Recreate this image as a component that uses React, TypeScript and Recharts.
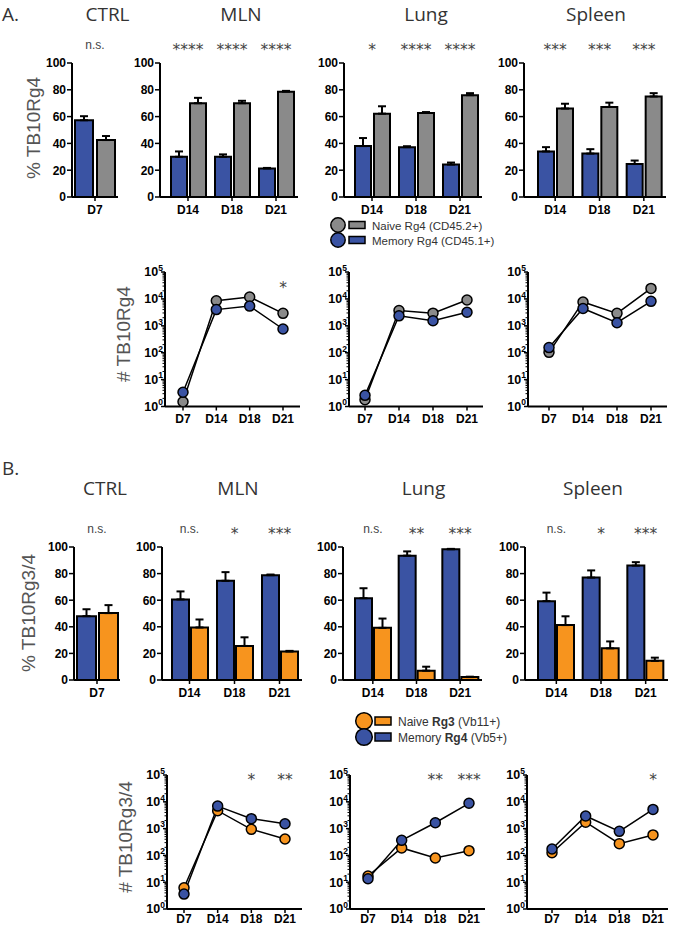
import React from 'react';
import { BarChart, Bar, XAxis, YAxis, ErrorBar, LineChart, Line } from 'recharts';

// ---------- categories & tick labels ----------
const ctrlDays = ['D7'];
const barDays = ['D14', 'D18', 'D21'];
const lineDays = ['D7', 'D14', 'D18', 'D21'];
const pctTicks = [0, 20, 40, 60, 80, 100];
const logMajorTicks = [1, 10, 100, 1000, 10000, 100000];
const minorMultipliers = [2, 3, 4, 5, 6, 7, 8, 9];

// ---------- Panel A: % TB10Rg4 (memory = blue, naive = gray) ----------
const aCtrlMemory = [57.3];
const aCtrlMemoryErr = [3];
const aCtrlNaive = [42.5];
const aCtrlNaiveErr = [3];
const aMlnMemory = [30, 30, 21.3];
const aMlnMemoryErr = [4, 1.8, 0.4];
const aMlnNaive = [70, 70, 78.6];
const aMlnNaiveErr = [4, 1.8, 0.6];
const aLungMemory = [38, 37.2, 24.2];
const aLungMemoryErr = [6, 0.7, 1.5];
const aLungNaive = [62.2, 62.7, 76];
const aLungNaiveErr = [5.5, 0.7, 1.5];
const aSpleenMemory = [34, 32.4, 24.6];
const aSpleenMemoryErr = [3.2, 3.3, 2.6];
const aSpleenNaive = [66, 67.2, 75];
const aSpleenNaiveErr = [3.6, 3.2, 2.5];
const aCtrlSig = ['n.s.'];
const aMlnSig = ['****', '****', '****'];
const aLungSig = ['*', '****', '****'];
const aSpleenSig = ['***', '***', '***'];

// ---------- Panel A: # TB10Rg4 ----------
const aMlnCountNaive = [1.5, 8500, 11800, 2900];
const aMlnCountMemory = [3.4, 4000, 5400, 760];
const aLungCountNaive = [1.8, 3700, 2950, 9100];
const aLungCountMemory = [2.6, 2350, 1540, 3200];
const aSpleenCountNaive = [103, 7700, 2900, 24500];
const aSpleenCountMemory = [155, 4400, 1300, 8100];
const aMlnCountSig = ['', '', '', '*'];
const aLungCountSig = ['', '', '', ''];
const aSpleenCountSig = ['', '', '', ''];

// ---------- Panel B: % TB10Rg3/4 (memory = blue, naive = orange) ----------
const bCtrlMemory = [48];
const bCtrlMemoryErr = [5.2];
const bCtrlNaive = [50.3];
const bCtrlNaiveErr = [6];
const bMlnMemory = [60.6, 74.6, 78.8];
const bMlnMemoryErr = [6, 6.5, 0.5];
const bMlnNaive = [39.5, 25.6, 21.4];
const bMlnNaiveErr = [6, 6.5, 0.5];
const bLungMemory = [61.5, 93.5, 98.3];
const bLungMemoryErr = [7.5, 3.2, 0.3];
const bLungNaive = [39.2, 7, 2.2];
const bLungNaiveErr = [7, 3, 0.3];
const bSpleenMemory = [59.3, 77, 86];
const bSpleenMemoryErr = [6.4, 5.4, 2.6];
const bSpleenNaive = [41.3, 23.8, 14.4];
const bSpleenNaiveErr = [6.6, 5.2, 2.4];
const bCtrlSig = ['n.s.'];
const bMlnSig = ['n.s.', '*', '***'];
const bLungSig = ['n.s.', '**', '***'];
const bSpleenSig = ['n.s.', '*', '***'];

// ---------- Panel B: # TB10Rg3/4 ----------
const bMlnCountMemory = [3.6, 6900, 2350, 1520];
const bMlnCountNaive = [6.2, 4650, 940, 410];
const bLungCountMemory = [13.5, 365, 1650, 8800];
const bLungCountNaive = [17, 190, 80, 150];
const bSpleenCountMemory = [173, 2950, 790, 5200];
const bSpleenCountNaive = [126, 1730, 275, 580];
const bMlnCountSig = ['', '', '*', '**'];
const bLungCountSig = ['', '', '**', '***'];
const bSpleenCountSig = ['', '', '', '*'];

// ---------- text ----------
const titles = ['CTRL', 'MLN', 'Lung', 'Spleen'];
const legendALabels = ['Naive Rg4 (CD45.2+)', 'Memory Rg4 (CD45.1+)'];
const legendBLabels = [
  ['Naive ', 'Rg3', ' (Vb11+)'],
  ['Memory ', 'Rg4', ' (Vb5+)'],
];

// ---------- styles ----------
const BLUE = '#3a53a3';
const GRAY = '#8a8a8a';
const ORANGE = '#f7941e';
const FONT = 'Liberation Sans, Arial, sans-serif';
const TOP_H = 30;
const BOTTOM_H = 26;
const Y_W = 36;
const RIGHT = 4;

const logTicks = [
  ...logMajorTicks,
  ...logMajorTicks.slice(0, -1).flatMap((d) => minorMultipliers.map((m) => d * m)),
].sort((a, b) => a - b);

function barRows(days: string[], mem: number[], memErr: number[], nai: number[], naiErr: number[]) {
  return days.map((d, i) => ({
    day: d,
    memory: mem[i],
    memoryErr: [0, memErr[i]],
    naive: nai[i],
    naiveErr: [0, naiErr[i]],
  }));
}

function lineRows(days: string[], nai: number[], mem: number[]) {
  return days.map((d, i) => ({ day: d, naive: nai[i], memory: mem[i] }));
}

const PctTick = (p: any) => (
  <g>
    <line x1={p.x - 5} x2={p.x} y1={p.y} y2={p.y} stroke="#000" strokeWidth={1.5} />
    <text x={p.x - 6} y={p.y + 4.3} textAnchor="end" fontSize={12} fontWeight="bold" fill="#000" fontFamily={FONT}>
      {p.payload.value}
    </text>
  </g>
);

const LogTick = (p: any) => {
  const v = p.payload.value;
  const exp = Math.round(Math.log10(v));
  const major = Math.abs(Math.pow(10, exp) - v) < 1e-6;
  if (!major) {
    return <line x1={p.x - 2.5} x2={p.x} y1={p.y} y2={p.y} stroke="#000" strokeWidth={1} />;
  }
  return (
    <g>
      <line x1={p.x - 4} x2={p.x} y1={p.y} y2={p.y} stroke="#000" strokeWidth={1.5} />
      <text x={p.x - 2} y={p.y + 4.3} textAnchor="end" fontSize={12.5} fontWeight="bold" fill="#000" fontFamily={FONT}>
        10
        <tspan fontSize={8.5} dy={-5.5}>
          {exp}
        </tspan>
      </text>
    </g>
  );
};

function makeDayTick(dy: number) {
  return (p: any) => (
    <g>
      <line x1={p.x} x2={p.x} y1={p.y} y2={p.y + 4} stroke="#000" strokeWidth={1.5} />
      <text x={p.x} y={p.y + dy} textAnchor="middle" fontSize={12} fontWeight="bold" fill="#000" fontFamily={FONT}>
        {p.payload.value}
      </text>
    </g>
  );
}

function makeSigTick(labels: string[], starDy: number, nsDy: number) {
  return (p: any) => {
    const label = labels[p.index] || '';
    if (!label) return <g />;
    if (label === 'n.s.') {
      return (
        <text x={p.x} y={p.y + nsDy} textAnchor="middle" fontSize={12} fill="#444" fontFamily={FONT}>
          {label}
        </text>
      );
    }
    return (
      <text x={p.x} y={p.y + starDy} textAnchor="middle" fontSize={15.5} fill="#444" fontFamily="DejaVu Sans, sans-serif">
        {label}
      </text>
    );
  };
}

type BarPanelProps = {
  axisX: number;
  plotTop: number;
  plotH: number;
  plotW: number;
  padL: number;
  barSize: number;
  barGap: number;
  rows: any[];
  naiveColor: string;
  sig: string[];
};

function BarPanel({ axisX, plotTop, plotH, plotW, padL, barSize, barGap, rows, naiveColor, sig }: BarPanelProps) {
  const width = Y_W + plotW + RIGHT;
  const height = TOP_H + plotH + BOTTOM_H;
  const axisLine = { stroke: '#000', strokeWidth: 2 };
  return (
    <div style={{ position: 'absolute', left: axisX - Y_W, top: plotTop - TOP_H }}>
      <BarChart
        width={width}
        height={height}
        data={rows}
        margin={{ top: 0, right: RIGHT, bottom: 0, left: 0 }}
        barSize={barSize}
        barGap={barGap}
        style={{ fontFamily: FONT }}
      >
        <XAxis
          xAxisId="sig"
          orientation="top"
          dataKey="day"
          height={TOP_H}
          axisLine={false}
          tickLine={false}
          tickSize={0}
          tickMargin={0}
          interval={0}
          padding={{ left: padL, right: 0 }}
          tick={makeSigTick(sig, -8, -14)}
        />
        <XAxis
          dataKey="day"
          height={BOTTOM_H}
          axisLine={axisLine}
          tickLine={false}
          tickSize={0}
          tickMargin={0}
          interval={0}
          padding={{ left: padL, right: 0 }}
          tick={makeDayTick(16.5)}
        />
        <YAxis
          width={Y_W}
          type="number"
          domain={[0, 100]}
          ticks={pctTicks}
          interval={0}
          axisLine={axisLine}
          tickLine={false}
          tickSize={0}
          tickMargin={0}
          tick={PctTick}
        />
        <Bar dataKey="memory" fill={BLUE} stroke="#000" strokeWidth={2} isAnimationActive={false}>
          <ErrorBar dataKey="memoryErr" width={4} stroke="#000" strokeWidth={2} direction="y" />
        </Bar>
        <Bar dataKey="naive" fill={naiveColor} stroke="#000" strokeWidth={2} isAnimationActive={false}>
          <ErrorBar dataKey="naiveErr" width={4} stroke="#000" strokeWidth={2} direction="y" />
        </Bar>
      </BarChart>
    </div>
  );
}

type LinePanelProps = {
  axisX: number;
  plotTop: number;
  plotH: number;
  plotW: number;
  padL: number;
  padR: number;
  rows: any[];
  naiveColor: string;
  sig: string[];
  sigDy: number;
  labelDy: number;
};

function LinePanel({ axisX, plotTop, plotH, plotW, padL, padR, rows, naiveColor, sig, sigDy, labelDy }: LinePanelProps) {
  const width = Y_W + plotW + RIGHT;
  const height = TOP_H + plotH + BOTTOM_H;
  const axisLine = { stroke: '#000', strokeWidth: 2 };
  const dot = (fill: string) => ({ r: 5, fill, stroke: '#000', strokeWidth: 1.5 });
  return (
    <div style={{ position: 'absolute', left: axisX - Y_W, top: plotTop - TOP_H }}>
      <LineChart
        width={width}
        height={height}
        data={rows}
        margin={{ top: 0, right: RIGHT, bottom: 0, left: 0 }}
        style={{ fontFamily: FONT }}
      >
        <XAxis
          xAxisId="sig"
          orientation="top"
          dataKey="day"
          height={TOP_H}
          axisLine={false}
          tickLine={false}
          tickSize={0}
          tickMargin={0}
          interval={0}
          padding={{ left: padL, right: padR }}
          tick={makeSigTick(sig, sigDy, sigDy)}
        />
        <XAxis
          dataKey="day"
          height={BOTTOM_H}
          axisLine={axisLine}
          tickLine={false}
          tickSize={0}
          tickMargin={0}
          interval={0}
          padding={{ left: padL, right: padR }}
          tick={makeDayTick(labelDy)}
        />
        <YAxis
          width={Y_W}
          type="number"
          scale="log"
          domain={[1, 100000]}
          allowDataOverflow
          ticks={logTicks}
          interval={0}
          axisLine={axisLine}
          tickLine={false}
          tickSize={0}
          tickMargin={0}
          tick={LogTick}
        />
        <Line dataKey="naive" stroke="#000" strokeWidth={1.5} dot={dot(naiveColor)} isAnimationActive={false} />
        <Line dataKey="memory" stroke="#000" strokeWidth={1.5} dot={dot(BLUE)} isAnimationActive={false} />
      </LineChart>
    </div>
  );
}

function Overlay() {
  const titleStyle = { fontFamily: 'Open Sans, sans-serif', fontSize: 19, fill: '#333' };
  const yLabStyle = { fontFamily: FONT, fontSize: 19, fill: '#555' };
  const aTitleX = [107.5, 241, 426, 596];
  const bTitleX = [105, 238, 423.5, 593];
  return (
    <svg width={681} height={926} style={{ position: 'absolute', left: 0, top: 0, pointerEvents: 'none' }}>
      <text x={2} y={20.5} style={titleStyle}>A.</text>
      <text x={2} y={475} style={titleStyle}>B.</text>
      {titles.map((t, i) => (
        <text key={'a' + t} x={aTitleX[i]} y={20.5} textAnchor="middle" style={titleStyle}>
          {t}
        </text>
      ))}
      {titles.map((t, i) => (
        <text key={'b' + t} x={bTitleX[i]} y={495} textAnchor="middle" style={titleStyle}>
          {t}
        </text>
      ))}
      <text transform="translate(40,128) rotate(-90)" textAnchor="middle" style={yLabStyle}>% TB10Rg4</text>
      <text transform="translate(130,334) rotate(-90)" textAnchor="middle" style={yLabStyle}># TB10Rg4</text>
      <text transform="translate(35,613) rotate(-90)" textAnchor="middle" style={yLabStyle}>% TB10Rg3/4</text>
      <text transform="translate(132,837) rotate(-90)" textAnchor="middle" style={yLabStyle}># TB10Rg3/4</text>

      {/* legend A */}
      {legendALabels.map((lab, i) => {
        const cy = 225 + i * 15;
        const fill = i === 0 ? GRAY : BLUE;
        return (
          <g key={lab}>
            <circle cx={338} cy={cy} r={7.2} fill={fill} stroke="#000" strokeWidth={1.5} />
            <rect x={349} y={cy - 3.5} width={16} height={7} fill={fill} stroke="#000" strokeWidth={1.5} />
            <text x={372} y={cy + 4.5} fontSize={11.5} fill="#333" fontFamily={FONT}>
              {lab}
            </text>
          </g>
        );
      })}

      {/* legend B */}
      {legendBLabels.map((parts, i) => {
        const cy = 721 + i * 16;
        const fill = i === 0 ? ORANGE : BLUE;
        return (
          <g key={parts.join('')}>
            <circle cx={364} cy={cy} r={8.3} fill={fill} stroke="#000" strokeWidth={1.5} />
            <rect x={375} y={cy - 4} width={16} height={8} fill={fill} stroke="#000" strokeWidth={1.5} />
            <text x={398} y={cy + 4.5} fontSize={12} fill="#333" fontFamily={FONT}>
              {parts[0]}
              <tspan fontWeight="bold">{parts[1]}</tspan>
              {parts[2]}
            </text>
          </g>
        );
      })}
    </svg>
  );
}

export default function App() {
  return (
    <div style={{ position: 'absolute', left: 0, top: 0, width: 681, height: 926, background: '#fff', overflow: 'hidden' }}>
      {/* A: percentages */}
      <BarPanel axisX={72} plotTop={63} plotH={134} plotW={46} padL={0} barSize={18} barGap={4}
        rows={barRows(ctrlDays, aCtrlMemory, aCtrlMemoryErr, aCtrlNaive, aCtrlNaiveErr)} naiveColor={GRAY} sig={aCtrlSig} />
      <BarPanel axisX={160} plotTop={63} plotH={134} plotW={138} padL={6} barSize={16} barGap={3}
        rows={barRows(barDays, aMlnMemory, aMlnMemoryErr, aMlnNaive, aMlnNaiveErr)} naiveColor={GRAY} sig={aMlnSig} />
      <BarPanel axisX={344} plotTop={63} plotH={134} plotW={138} padL={6} barSize={16} barGap={3}
        rows={barRows(barDays, aLungMemory, aLungMemoryErr, aLungNaive, aLungNaiveErr)} naiveColor={GRAY} sig={aLungSig} />
      <BarPanel axisX={524} plotTop={63} plotH={134} plotW={142} padL={9} barSize={16} barGap={3}
        rows={barRows(barDays, aSpleenMemory, aSpleenMemoryErr, aSpleenNaive, aSpleenNaiveErr)} naiveColor={GRAY} sig={aSpleenSig} />

      {/* A: counts */}
      <LinePanel axisX={165} plotTop={271.5} plotH={134.5} plotW={135} padL={18} padR={17}
        rows={lineRows(lineDays, aMlnCountNaive, aMlnCountMemory)} naiveColor={GRAY} sig={aMlnCountSig} sigDy={21} labelDy={16.5} />
      <LinePanel axisX={349} plotTop={271.5} plotH={134.5} plotW={134} padL={16} padR={16}
        rows={lineRows(lineDays, aLungCountNaive, aLungCountMemory)} naiveColor={GRAY} sig={aLungCountSig} sigDy={21} labelDy={16.5} />
      <LinePanel axisX={528} plotTop={271.5} plotH={134.5} plotW={139} padL={21} padR={16}
        rows={lineRows(lineDays, aSpleenCountNaive, aSpleenCountMemory)} naiveColor={GRAY} sig={aSpleenCountSig} sigDy={21} labelDy={16.5} />

      {/* B: percentages */}
      <BarPanel axisX={74} plotTop={547} plotH={133} plotW={46} padL={0} barSize={19} barGap={3}
        rows={barRows(ctrlDays, bCtrlMemory, bCtrlMemoryErr, bCtrlNaive, bCtrlNaiveErr)} naiveColor={ORANGE} sig={bCtrlSig} />
      <BarPanel axisX={162} plotTop={547} plotH={133} plotW={140} padL={5} barSize={17} barGap={2}
        rows={barRows(barDays, bMlnMemory, bMlnMemoryErr, bMlnNaive, bMlnNaiveErr)} naiveColor={ORANGE} sig={bMlnSig} />
      <BarPanel axisX={343} plotTop={547} plotH={133} plotW={139} padL={8} barSize={17} barGap={2}
        rows={barRows(barDays, bLungMemory, bLungMemoryErr, bLungNaive, bLungNaiveErr)} naiveColor={ORANGE} sig={bLungSig} />
      <BarPanel axisX={525} plotTop={547} plotH={133} plotW={143} padL={9} barSize={17} barGap={2}
        rows={barRows(barDays, bSpleenMemory, bSpleenMemoryErr, bSpleenNaive, bSpleenNaiveErr)} naiveColor={ORANGE} sig={bSpleenSig} />

      {/* B: counts */}
      <LinePanel axisX={167} plotTop={775} plotH={134} plotW={135} padL={17} padR={17}
        rows={lineRows(lineDays, bMlnCountNaive, bMlnCountMemory)} naiveColor={ORANGE} sig={bMlnCountSig} sigDy={10} labelDy={13.5} />
      <LinePanel axisX={350} plotTop={775} plotH={134} plotW={135} padL={18} padR={16}
        rows={lineRows(lineDays, bLungCountNaive, bLungCountMemory)} naiveColor={ORANGE} sig={bLungCountSig} sigDy={10} labelDy={13.5} />
      <LinePanel axisX={527} plotTop={775} plotH={134} plotW={141} padL={25} padR={15}
        rows={lineRows(lineDays, bSpleenCountNaive, bSpleenCountMemory)} naiveColor={ORANGE} sig={bSpleenCountSig} sigDy={10} labelDy={13.5} />

      <Overlay />
    </div>
  );
}
